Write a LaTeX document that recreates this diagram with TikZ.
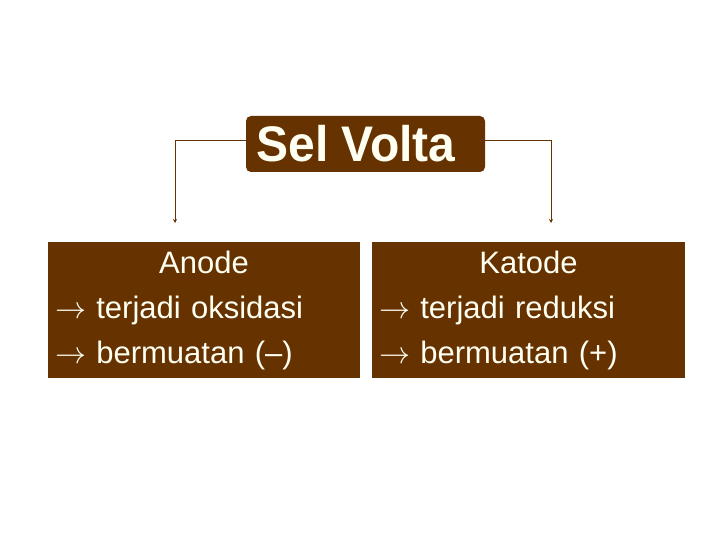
\documentclass[tikz,border=0pt]{standalone}
\usepackage{fix-cm}
\usepackage{fontspec}
\setmainfont{Liberation Sans}
\usetikzlibrary{arrows.meta}
\definecolor{selbrown}{HTML}{663300}
\definecolor{selcream}{HTML}{FFFFF2}
\begin{document}
\begin{tikzpicture}[x=1pt, y=-1pt]
        \useasboundingbox (0,0) rectangle (720,540);
        \node[fill=selbrown, text=selcream, rounded corners=5pt, minimum width=239pt, minimum height=56pt, inner sep=0pt] at (365.5,144) (SelVolta) {\scalebox{0.96}[1]{\fontsize{50}{54}\selectfont\bfseries Sel Volta}\hspace*{19pt}};
        \node[fill=selbrown, text=selcream, minimum width=312pt, minimum height=136pt, text width=298pt, align=left, inner sep=7pt, font=\fontsize{31}{45}\selectfont] at (204,310) (Anode) {\makebox[298pt][c]{Anode}\\ $\rightarrow$ terjadi oksidasi\\ $\rightarrow$ bermuatan (–)};
        \node[fill=selbrown, text=selcream, minimum width=313pt, minimum height=136pt, text width=299pt, align=left, inner sep=7pt, font=\fontsize{31}{45}\selectfont] at (528.5,310) (Katode) {\makebox[299pt][c]{Katode}\\ $\rightarrow$ terjadi reduksi\\ $\rightarrow$ bermuatan (+)};
        \coordinate (AnodeEnd) at (175,223);
        \coordinate (KatodeEnd) at (551,223);
        \draw [-{Stealth[length=4pt, width=4pt]}, selbrown, semithick] (SelVolta.west |- 0,140) -| (AnodeEnd);
        \draw [-{Stealth[length=4pt, width=4pt]}, selbrown, semithick] (SelVolta.east |- 0,140) -| (KatodeEnd);
    \end{tikzpicture}
\end{document}
